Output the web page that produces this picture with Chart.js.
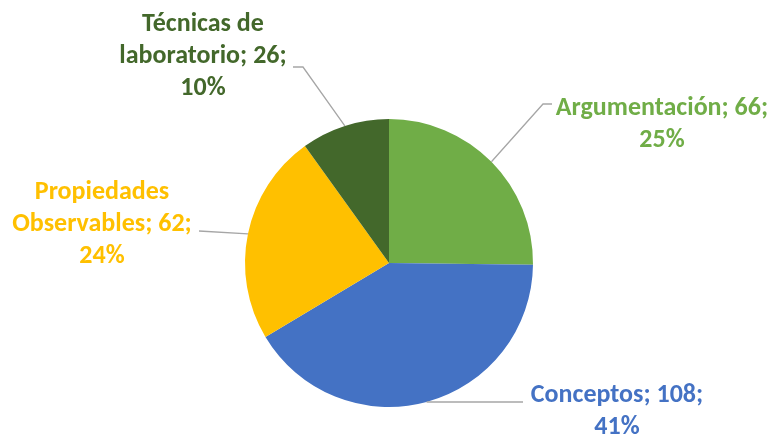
<!DOCTYPE html>
<html>
<head>
<meta charset="utf-8">
<script src="https://cdn.jsdelivr.net/npm/chart.js@4/dist/chart.umd.min.js"></script>
<style>
  html, body { margin: 0; padding: 0; background: #fff; }
  #wrap { width: 777px; height: 435px; }
</style>
</head>
<body>
<div id="wrap"><canvas id="pieChart" width="777" height="435"></canvas></div>
<script>
const categories = ["Argumentación", "Conceptos", "Propiedades Observables", "Técnicas de laboratorio"];
const counts = [66, 108, 62, 26];
const percents = ["25%", "41%", "24%", "10%"];

const sliceColors = ["#70AD47", "#4472C4", "#FFC000", "#43682B"];

// label lines as in the original (line breaks only)
const labelLines = [
  ["Argumentación; 66;", "25%"],
  ["Conceptos; 108;", "41%"],
  ["Propiedades", "Observables; 62;", "24%"],
  ["Técnicas de", "laboratorio; 26;", "10%"],
];

// label placement relative to pie centre (style only)
const labelPlace = [
  { dx: 273, dy: -155, elbow: [154, -159], end: [163, -159] },
  { dx: 228, dy: 132, elbow: [134, 139], end: [134, 139] },
  { dx: -287, dy: -71, elbow: [-190, -32], end: [-190, -32] },
  { dx: -186, dy: -239, elbow: [-86, -196], end: [-96, -196] },
];

const outsideLabels = {
  id: "outsideLabels",
  afterDatasetsDraw(chart) {
    const ctx = chart.ctx;
    const meta = chart.getDatasetMeta(0);
    ctx.save();
    meta.data.forEach((arc, i) => {
      const p = arc.getProps(["x", "y", "startAngle", "endAngle", "outerRadius"], true);
      const mid = (p.startAngle + p.endAngle) / 2;
      const ex = p.x + Math.cos(mid) * p.outerRadius;
      const ey = p.y + Math.sin(mid) * p.outerRadius;
      const pl = labelPlace[i];

      ctx.strokeStyle = "#A6A6A6";
      ctx.lineWidth = 1.3;
      ctx.beginPath();
      ctx.moveTo(ex, ey);
      ctx.lineTo(p.x + pl.elbow[0], p.y + pl.elbow[1]);
      ctx.lineTo(p.x + pl.end[0], p.y + pl.end[1]);
      ctx.stroke();

      ctx.fillStyle = sliceColors[i];
      ctx.font = "bold 26px Carlito, 'Liberation Sans Narrow', 'Open Sans', sans-serif";
      ctx.textAlign = "center";
      ctx.textBaseline = "middle";
      labelLines[i].forEach((line, k) => {
        ctx.fillText(line, p.x + pl.dx, p.y + pl.dy + k * 32);
      });
    });
    ctx.restore();
  }
};

new Chart(document.getElementById("pieChart").getContext("2d"), {
  type: "pie",
  data: {
    labels: categories,
    datasets: [{
      data: counts,
      backgroundColor: sliceColors,
      borderWidth: 0,
    }],
  },
  options: {
    responsive: false,
    animation: false,
    layout: { padding: { left: 200, right: 199, top: 119, bottom: 28 } },
    plugins: {
      legend: { display: false },
      tooltip: { enabled: false },
    },
  },
  plugins: [outsideLabels],
});
</script>
</body>
</html>
